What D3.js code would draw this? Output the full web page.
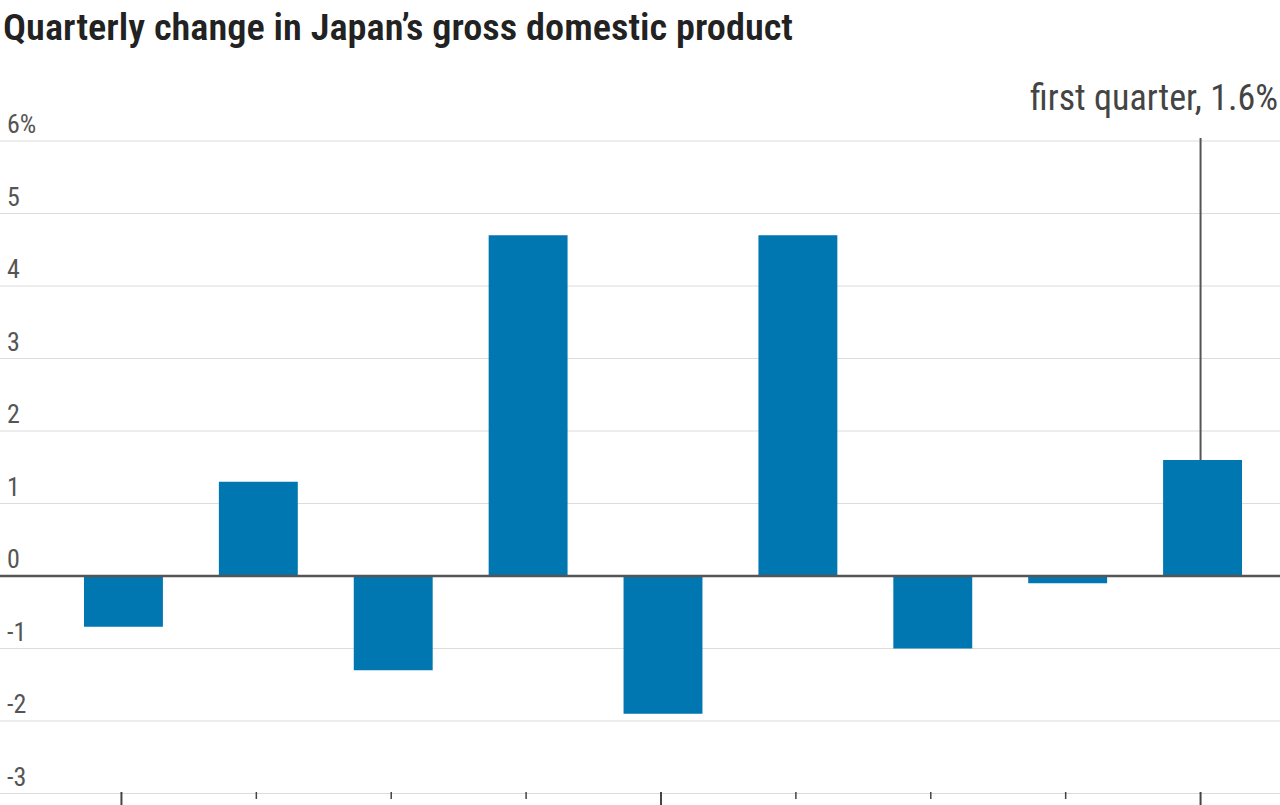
<!DOCTYPE html>
<html><head><meta charset="utf-8">
<script src="https://cdn.jsdelivr.net/npm/d3@7"></script>
<style>
html,body{margin:0;padding:0;background:#fff;}
svg{display:block;}
</style></head>
<body>
<svg id="chart" width="1280" height="805"></svg>
<script>
const categories = ["2021 Q1","2021 Q2","2021 Q3","2021 Q4","2022 Q1","2022 Q2","2022 Q3","2022 Q4","2023 Q1"];
const values = [-0.7, 1.3, -1.3, 4.7, -1.9, 4.7, -1.0, -0.1, 1.6];
const majorTicks = ["2021 Q1","2022 Q1","2023 Q1"];
const yTicks = [6,5,4,3,2,1,0,-1,-2,-3];
const yTickLabels = ["6%","5","4","3","2","1","0","-1","-2","-3"];
const title = "Quarterly change in Japan\u2019s gross domestic product";
const annotation = "first quarter, 1.6%";

const svg = d3.select("#chart");
const font = "'Liberation Sans Narrow', 'Roboto Condensed', sans-serif";

const y = d3.scaleLinear().domain([-3, 6]).range([793.5, 141]);
const x = d3.scaleBand().domain(categories).range([56, 1270])
  .paddingInner(0.415).paddingOuter(0.2075);

// gridlines
svg.append("g").selectAll("line").data(yTicks.filter(d => d !== 0)).join("line")
  .attr("x1", 0).attr("x2", 1280)
  .attr("y1", d => y(d)).attr("y2", d => y(d))
  .attr("stroke", "#dcdcdc").attr("stroke-width", 1.2);

// y labels
svg.append("g").selectAll("text").data(yTicks).join("text")
  .attr("x", 7).attr("y", (d) => y(d) - 8)
  .attr("font-family", font).attr("font-size", 26)
  .attr("fill", "#555")
  .text((d, i) => yTickLabels[i]);

// bars
svg.append("g").selectAll("rect").data(values).join("rect")
  .attr("x", (d, i) => x(categories[i]))
  .attr("width", x.bandwidth())
  .attr("y", d => y(Math.max(0, d)))
  .attr("height", d => Math.abs(y(d) - y(0)))
  .attr("fill", "#0077b0");

// zero line
svg.append("line").attr("x1", 0).attr("x2", 1280)
  .attr("y1", y(0)).attr("y2", y(0))
  .attr("stroke", "#555").attr("stroke-width", 2.5);

// bottom ticks
const ticks = svg.append("g");
ticks.selectAll("line").data(categories).join("line")
  .attr("x1", d => x(d) + x.bandwidth() / 2 - 2)
  .attr("x2", d => x(d) + x.bandwidth() / 2 - 2)
  .attr("y1", 792)
  .attr("y2", d => majorTicks.includes(d) ? 805 : 799)
  .attr("stroke", "#444").attr("stroke-width", d => majorTicks.includes(d) ? 2 : 1.5);

// annotation
const last = categories[categories.length - 1];
const ax = x(last) + x.bandwidth() / 2 - 2;
svg.append("line").attr("x1", ax).attr("x2", ax)
  .attr("y1", 138).attr("y2", y(values[values.length - 1]))
  .attr("stroke", "#555").attr("stroke-width", 2);
svg.append("text").attr("x", 1278).attr("y", 110)
  .attr("text-anchor", "end")
  .attr("font-family", font).attr("font-size", 36)
  .attr("fill", "#444").text(annotation);

// title
const t = svg.append("text").attr("x", 3).attr("y", 40)
  .attr("font-family", font).attr("font-size", 36).attr("font-weight", 600)
  .attr("fill", "#222").text(title);
t.attr("textLength", 790).attr("lengthAdjust", "spacingAndGlyphs");
</script>
</body></html>
